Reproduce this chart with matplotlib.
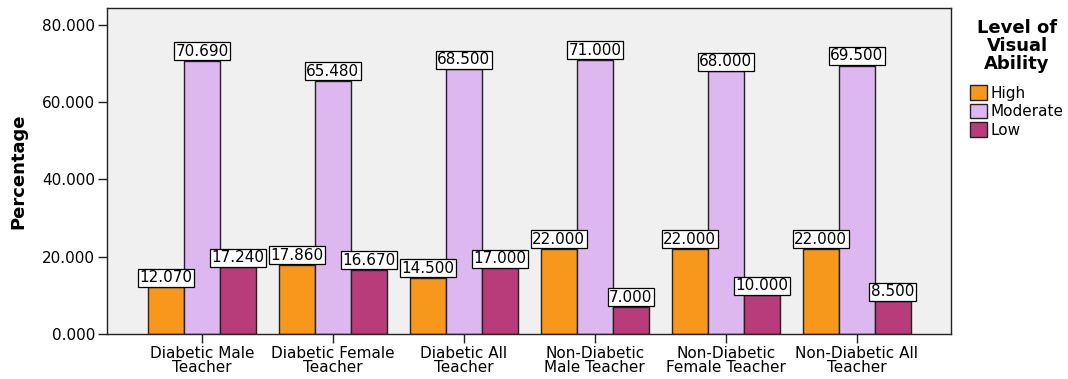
import matplotlib.pyplot as plt
import numpy as np
from matplotlib.patches import Patch

categories = [
    "Diabetic Male\nTeacher",
    "Diabetic Female\nTeacher",
    "Diabetic All\nTeacher",
    "Non-Diabetic\nMale Teacher",
    "Non-Diabetic\nFemale Teacher",
    "Non-Diabetic All\nTeacher",
]
high = [12.07, 17.86, 14.5, 22.0, 22.0, 22.0]
moderate = [70.69, 65.48, 68.5, 71.0, 68.0, 69.5]
low = [17.24, 16.67, 17.0, 7.0, 10.0, 8.5]

series = [("High", high, "#F7971C"), ("Moderate", moderate, "#DDB8F0"), ("Low", low, "#B83C7A")]

fig = plt.figure(figsize=(10.68, 3.79), dpi=100)
ax = fig.add_axes([0.1002, 0.1187, 0.7902, 0.8603])
ax.set_facecolor("#F0F0F0")

x = np.arange(len(categories))
width = 0.275
for i, (name, vals, color) in enumerate(series):
    pos = x + (i - 1) * width
    ax.bar(pos, vals, width, color=color, edgecolor="#222222", linewidth=1.0, zorder=2)
    for p, v in zip(pos, vals):
        ax.annotate(f"{v:.3f}", (p, v), xytext=(0, 1.5), textcoords="offset points",
                    ha="center", va="bottom", fontsize=11, zorder=3,
                    bbox=dict(boxstyle="square,pad=0.1", facecolor="white", edgecolor="black", linewidth=0.9))

ax.set_xlim(-0.725, 5.72)
ax.set_ylim(0, 84.4)
ax.set_yticks([0, 20, 40, 60, 80])
ax.set_yticklabels([f"{v:.3f}" for v in [0, 20, 40, 60, 80]], fontsize=11)
ax.set_xticks(x)
ax.set_xticklabels(categories, fontsize=11, linespacing=0.95)
ax.tick_params(axis="both", length=6.5, width=1, color="#222222", pad=2)
ax.set_ylabel("Percentage", fontsize=13, fontweight="bold")
ax.yaxis.set_label_coords(-0.094, 0.5)
for s in ax.spines.values():
    s.set_color("#222222")
    s.set_linewidth(1)

# legend title drawn separately so the gap below it matches
fig.text(1017 / 1068, 1 - 19 / 379, "Level of\nVisual\nAbility", ha="center", va="top",
         fontsize=13, fontweight="bold", linespacing=1.0)
handles = [Patch(facecolor=c, edgecolor="#222222", label=n) for n, _, c in series]
fig.legend(handles=handles, loc="upper left", bbox_to_anchor=(970 / 1068, 1 - 85 / 379),
           frameon=False, fontsize=11, handlelength=1.1, handleheight=1.1,
           handletextpad=0.25, labelspacing=0.2, borderaxespad=0.0, borderpad=0.0)

fig.savefig("out.png", dpi=100)
